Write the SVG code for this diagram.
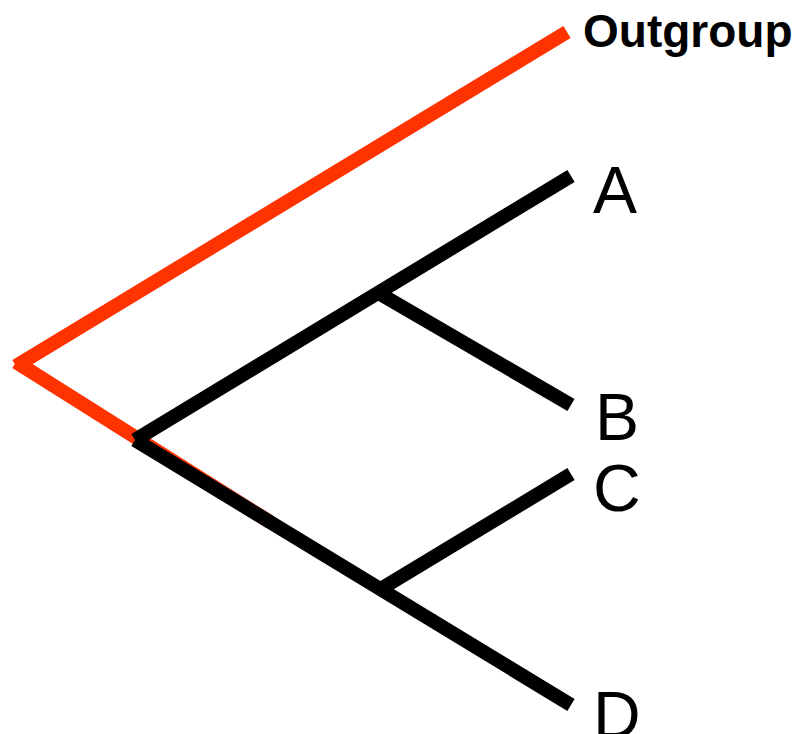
<svg xmlns="http://www.w3.org/2000/svg" width="796" height="734" viewBox="0 0 796 734">
<style>
.red{stroke:#ff3300;stroke-width:14;fill:none;stroke-linecap:butt}
.blk{stroke:#000;stroke-width:14;fill:none;stroke-linecap:butt}
.lbl{font-family:"Liberation Sans",Arial,sans-serif;font-size:66px;fill:#000}
.og{font-family:"Liberation Sans",Arial,sans-serif;font-size:46px;font-weight:bold;fill:#000}
</style>
<rect width="796" height="734" fill="#fff"/>
<g id="connectors">
<line class="red" x1="567" y1="32" x2="16" y2="366"/>
<line class="red" x1="16" y1="362" x2="270" y2="522"/>
<line class="blk" x1="135" y1="440" x2="571" y2="176"/>
<line class="blk" x1="135" y1="440" x2="571" y2="705"/>
<line class="blk" x1="375" y1="291" x2="571" y2="405"/>
<line class="blk" x1="379" y1="590" x2="571" y2="474"/>
</g>
<g id="node-outgroup"><text class="og" x="583" y="47">Outgroup</text></g>
<g id="node-A"><text class="lbl" x="593" y="213">A</text></g>
<g id="node-B"><text class="lbl" x="595" y="440">B</text></g>
<g id="node-C"><text class="lbl" x="593" y="511">C</text></g>
<g id="node-D"><text class="lbl" x="593" y="738">D</text></g>
</svg>
